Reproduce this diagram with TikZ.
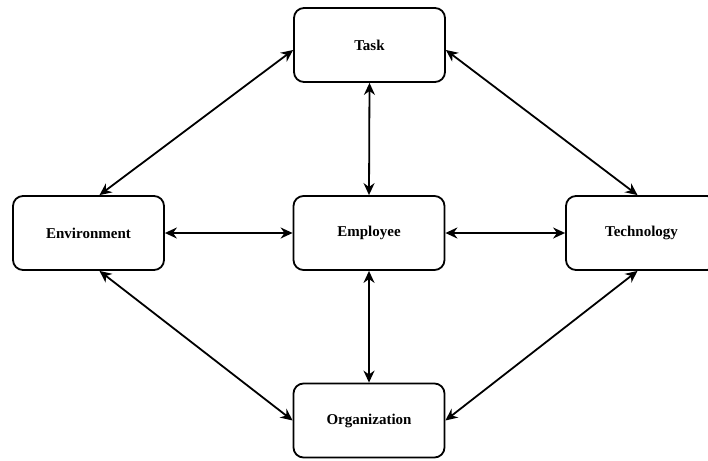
\documentclass[tikz,border=0pt]{standalone}
\usepackage{fontspec}
\setmainfont{Liberation Serif}
\usetikzlibrary{arrows.meta}

\begin{document}
\begin{tikzpicture}[x=1pt,y=-1pt]
                  \tikzstyle{every node}+=[inner sep=0pt]
                  \tikzstyle{box}=[draw=black,line width=1.8pt,rounded corners=10pt,
                    minimum width=151pt,minimum height=74pt,
                    font=\fontsize{15}{17}\selectfont\bfseries]
                  \tikzstyle{link}=[line width=1.8pt,{Stealth[length=12pt,width=11pt]}-{Stealth[length=12pt,width=11pt]}]
                  \useasboundingbox (0,0) rectangle (708,460);
                  \node [box] (task) at (369.5,45) {Task};
                  \node [box] (env) at (88.5,233) {Environment};
                  \node [box] (emp) at (369,233) {Employee};
                  \node [box] (tech) at (641.5,233) {Technology};
                  \node [box] (org) at (369,420.5) {Organization};
                  % spokes around the middle box
                  \draw [link] (task.south) -- (emp.north);
                  \draw [link] (env.east) -- (emp.west);
                  \draw [link] (emp.east) -- (tech.west);
                  \draw [link] (emp.south) -- (org.north);
                  % outer ring
                  \draw [link] ([yshift=-5pt]task.west) -- ([xshift=11pt]env.north);
                  \draw [link] ([yshift=-5pt]task.east) -- ([xshift=-4pt]tech.north);
                  \draw [link] ([xshift=11pt]env.south) -- (org.west);
                  \draw [link] ([xshift=-4pt]tech.south) -- (org.east);
\end{tikzpicture}
\end{document}
